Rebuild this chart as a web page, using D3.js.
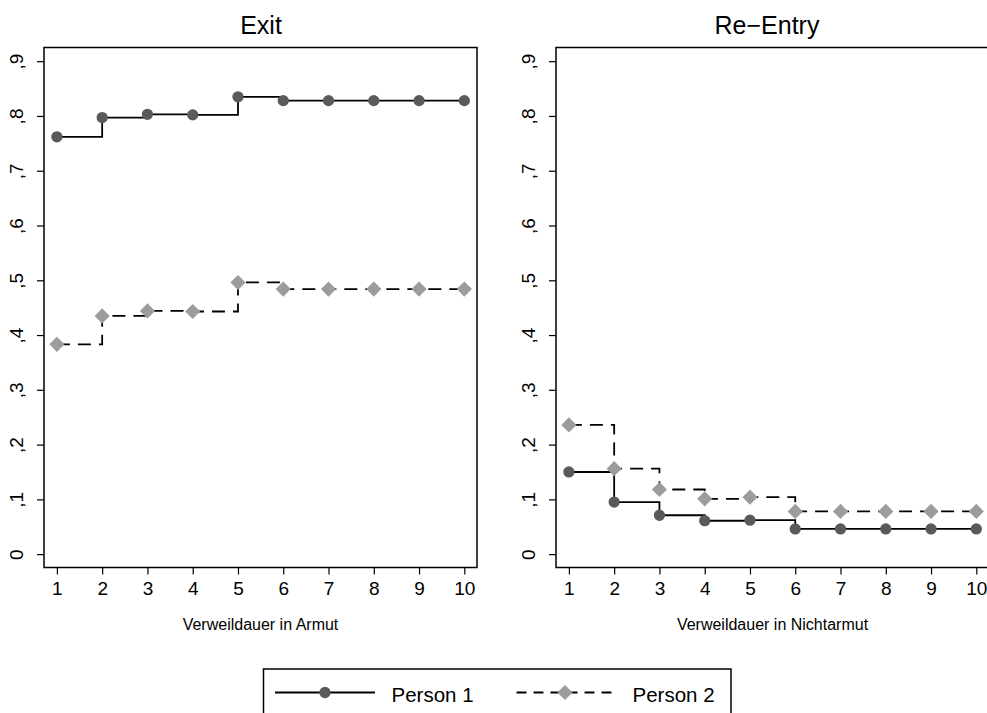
<!DOCTYPE html>
<html>
<head>
<meta charset="utf-8">
<script src="https://cdn.jsdelivr.net/npm/d3@7"></script>
<style>
  html, body { margin: 0; padding: 0; background: #fff; }
  svg { display: block; font-family: "Liberation Sans", Arial, Helvetica, sans-serif; }
</style>
</head>
<body>
<svg id="chart" width="987" height="713"></svg>
<script>
// ---- data ----
const durations = [1, 2, 3, 4, 5, 6, 7, 8, 9, 10];
const exitPerson1 = [0.762, 0.797, 0.803, 0.802, 0.835, 0.828, 0.828, 0.828, 0.828, 0.828];
const exitPerson2 = [0.383, 0.435, 0.444, 0.443, 0.496, 0.484, 0.484, 0.484, 0.484, 0.484];
const reentryPerson1 = [0.150, 0.095, 0.071, 0.061, 0.062, 0.046, 0.046, 0.046, 0.046, 0.046];
const reentryPerson2 = [0.236, 0.156, 0.118, 0.101, 0.104, 0.078, 0.078, 0.078, 0.078, 0.078];
const yTicks = [0, 0.1, 0.2, 0.3, 0.4, 0.5, 0.6, 0.7, 0.8, 0.9];
const yTickLabels = ["0", ",1", ",2", ",3", ",4", ",5", ",6", ",7", ",8", ",9"];
const panelTitles = ["Exit", "Re\u2212Entry"];
const axisTitles = ["Verweildauer in Armut", "Verweildauer in Nichtarmut"];
const seriesNames = ["Person 1", "Person 2"];

const svg = d3.select("#chart");
const font = "'Liberation Sans', Arial, Helvetica, sans-serif";

const panels = [
  { left: 44, title: panelTitles[0], titleX: 261, axisTitle: axisTitles[0], s1: exitPerson1, s2: exitPerson2 },
  { left: 556, title: panelTitles[1], titleX: 767, axisTitle: axisTitles[1], s1: reentryPerson1, s2: reentryPerson2 }
];
const boxW = 433, boxTop = 47.5, boxBottom = 567.5;

const c1 = "#5a5a5a", c2 = "#9c9c9c";
const circle = d3.symbol().type(d3.symbolCircle).size(100);
const square = d3.symbol().type(d3.symbolSquare).size(115);

panels.forEach(p => {
  const x = d3.scaleLinear().domain([0.715, 10.28]).range([p.left, p.left + boxW]);
  const y = d3.scaleLinear().domain([-0.0244, 0.925]).range([boxBottom, boxTop]);
  const g = svg.append("g");

  // box
  g.append("rect").attr("x", p.left).attr("y", boxTop)
    .attr("width", boxW).attr("height", boxBottom - boxTop)
    .attr("fill", "none").attr("stroke", "#000").attr("stroke-width", 1.5);

  // y axis
  const ya = g.append("g").attr("transform", `translate(${p.left},0)`)
    .call(d3.axisLeft(y).tickValues(yTicks).tickSize(7).tickFormat((d, i) => yTickLabels[i]));
  ya.select(".domain").remove();
  ya.selectAll(".tick line").attr("stroke", "#000").attr("stroke-width", 1.2);
  ya.selectAll(".tick text")
    .attr("x", 0).attr("y", 0).attr("dy", 0)
    .attr("transform", "translate(-21,0) rotate(-90)")
    .attr("text-anchor", "middle")
    .style("font-family", font).style("font-size", "19px").attr("fill", "#000");

  // x axis
  const xa = g.append("g").attr("transform", `translate(0,${boxBottom})`)
    .call(d3.axisBottom(x).tickValues(durations).tickSize(7).tickFormat(d3.format("d")));
  xa.select(".domain").remove();
  xa.selectAll(".tick line").attr("stroke", "#000").attr("stroke-width", 1.2);
  xa.selectAll(".tick text").attr("y", 27).attr("dy", 0)
    .style("font-family", font).style("font-size", "19px").attr("fill", "#000");

  // titles
  g.append("text").attr("x", p.titleX).attr("y", 33.5).attr("text-anchor", "middle")
    .style("font-family", font).style("font-size", "25px").text(p.title);
  g.append("text").attr("x", p.left + boxW / 2).attr("y", 630).attr("text-anchor", "middle")
    .style("font-family", font).style("font-size", "16px").text(p.axisTitle);

  const line = d3.line().curve(d3.curveStepAfter).x((d, i) => x(durations[i])).y(d => y(d));

  g.append("path").datum(p.s1).attr("d", line)
    .attr("fill", "none").attr("stroke", "#000").attr("stroke-width", 1.8);
  g.append("path").datum(p.s2).attr("d", line)
    .attr("fill", "none").attr("stroke", "#000").attr("stroke-width", 1.8)
    .attr("stroke-dasharray", "13,8");

  g.selectAll(".m1").data(p.s1).enter().append("path")
    .attr("d", circle).attr("fill", c1)
    .attr("transform", (d, i) => `translate(${x(durations[i])},${y(d)})`);
  g.selectAll(".m2").data(p.s2).enter().append("path")
    .attr("d", square).attr("fill", c2)
    .attr("transform", (d, i) => `translate(${x(durations[i])},${y(d)}) rotate(45)`);
});

// legend
const lg = svg.append("g");
lg.append("rect").attr("x", 263.5).attr("y", 669).attr("width", 467.5).attr("height", 60)
  .attr("fill", "none").attr("stroke", "#000").attr("stroke-width", 1.5);
const ly = 692.5;
lg.append("line").attr("x1", 275).attr("x2", 375).attr("y1", ly).attr("y2", ly)
  .attr("stroke", "#000").attr("stroke-width", 1.8);
lg.append("path").attr("d", circle).attr("fill", c1).attr("transform", `translate(325,${ly})`);
lg.append("text").attr("x", 391.5).attr("y", 701.5)
  .style("font-family", font).style("font-size", "20.5px").text(seriesNames[0]);
lg.append("line").attr("x1", 516.5).attr("x2", 616.5).attr("y1", ly).attr("y2", ly)
  .attr("stroke", "#000").attr("stroke-width", 1.8).attr("stroke-dasharray", "10,7");
lg.append("path").attr("d", square).attr("fill", c2).attr("transform", `translate(565,${ly}) rotate(45)`);
lg.append("text").attr("x", 632.5).attr("y", 701.5)
  .style("font-family", font).style("font-size", "20.5px").text(seriesNames[1]);
</script>
</body>
</html>
